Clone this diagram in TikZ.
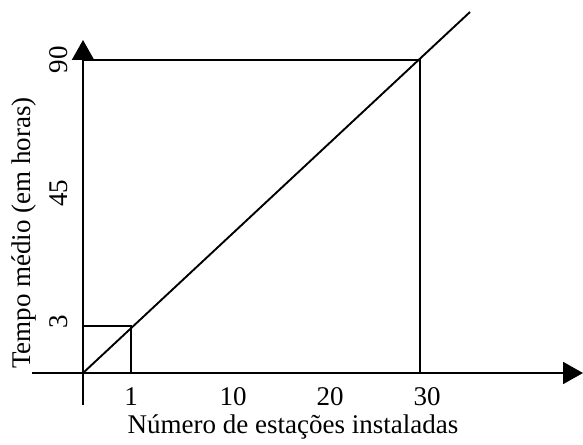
\documentclass[tikz,border=0pt]{standalone}
\usepackage{fontspec}
\setmainfont{Liberation Serif}
\usetikzlibrary{arrows.meta}
\begin{document}
\begin{tikzpicture}[x=1pt,y=-1pt,
  ln/.style={line width=1.9pt},
  lbl/.style={inner sep=0pt,font=\fontsize{27}{30}\selectfont},
  ax/.style={line width=1.9pt,-{Triangle[length=20pt,width=22pt]}}]
\useasboundingbox (0,0) rectangle (583,444);
\coordinate (O) at (83,373);
\coordinate (xs) at (32,373);
\coordinate (xe) at (583,373);
\coordinate (ys) at (83,405);
\coordinate (ye) at (83,40);
\coordinate (p90) at (83,60);
\coordinate (p30) at (420,60);
\coordinate (b30) at (420,373);
\coordinate (p3) at (83,326);
\coordinate (p1) at (131,326);
\coordinate (b1) at (131,373);
\coordinate (lend) at (470,12);
\draw[ax] (xs) -- (xe);
\draw[ax] (ys) -- (ye);
\draw[ln] (p90) -- (p30) -- (b30);
\draw[ln] (p3) -- (p1) -- (b1);
\draw[ln] (O) -- (lend);
\node[lbl,rotate=90] (l90) at (59,60) {90};
\node[lbl,rotate=90] (l45) at (59,193) {45};
\node[lbl,rotate=90] (l3) at (59,322) {3};
\node[lbl,rotate=90] (ly) at (24,233) {Tempo médio (em horas)};
\node[lbl] (x1) at (131,397) {1};
\node[lbl] (x10) at (233,397) {10};
\node[lbl] (x20) at (330,397) {20};
\node[lbl] (x30) at (427,397) {30};
\node[lbl] (lx) at (293,427) {Número de estações instaladas};
\end{tikzpicture}
\end{document}
